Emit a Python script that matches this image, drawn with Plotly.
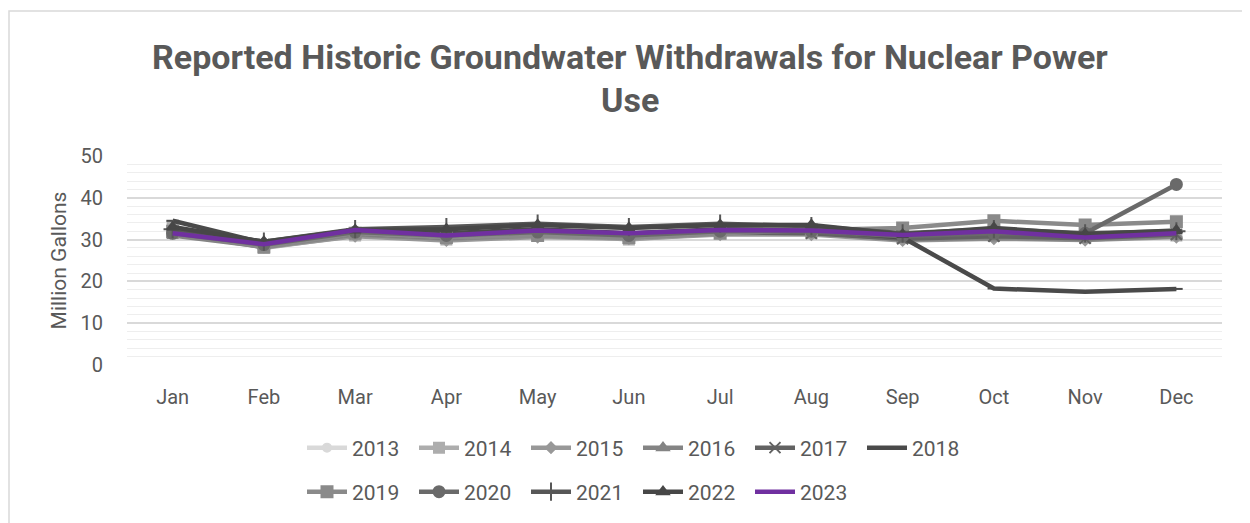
import plotly.graph_objects as go

months = ["Jan", "Feb", "Mar", "Apr", "May", "Jun", "Jul", "Aug", "Sep", "Oct", "Nov", "Dec"]
years = ["2013", "2014", "2015", "2016", "2017", "2018", "2019", "2020", "2021", "2022", "2023"]

y2013 = [32.0, 28.5, 31.0, 30.0, 31.0, 30.5, 31.5, 31.5, 30.0, 30.5, 30.0, 31.0]
y2014 = [33.0, 28.0, 31.0, 30.0, 31.5, 30.0, 31.5, 31.5, 30.5, 31.0, 30.5, 31.0]
y2015 = [31.5, 28.2, 30.8, 29.8, 30.6, 30.2, 31.2, 31.2, 29.8, 30.2, 29.9, 30.6]
y2016 = [31.0, 28.3, 31.2, 30.2, 31.0, 30.5, 31.5, 31.8, 30.0, 30.4, 30.0, 30.8]
y2017 = [31.8, 28.8, 31.5, 30.5, 31.3, 30.8, 31.8, 31.5, 30.2, 30.8, 30.3, 31.2]
y2018 = [34.5, 29.2, 32.0, 31.5, 32.5, 31.5, 32.5, 32.3, 30.5, 18.3, 17.5, 18.2]
y2019 = [32.0, 28.2, 31.5, 30.5, 31.0, 30.5, 31.5, 32.3, 32.8, 34.5, 33.5, 34.3]
y2020 = [31.5, 28.8, 31.8, 31.0, 31.8, 31.0, 32.0, 32.0, 30.8, 31.5, 31.5, 43.2]
y2021 = [32.5, 29.5, 32.5, 33.0, 33.8, 33.0, 33.8, 33.2, 31.5, 32.5, 31.5, 32.0]
y2022 = [33.0, 29.5, 32.3, 32.5, 33.5, 32.8, 33.5, 33.5, 31.2, 32.8, 31.3, 32.2]
y2023 = [31.5, 28.9, 32.3, 31.0, 32.2, 31.5, 32.3, 32.2, 31.1, 32.0, 30.5, 31.5]

values = [y2013, y2014, y2015, y2016, y2017, y2018, y2019, y2020, y2021, y2022, y2023]
colors = ["#d9d9d9", "#adadad", "#989898", "#848484", "#626262", "#4a4a4a",
          "#8a8a8a", "#6a6a6a", "#575757", "#474747", "#7030a0"]
symbols = ["circle", "square", "diamond", "triangle-up", "x-thin", "line-ew",
           "square", "circle", "cross-thin", "triangle-up", None]
sizes = [8, 10, 8, 10, 11, 9, 11, 11, 13, 10, 0]

OFF = 8  # page body margin
W, H = 1250, 523
PL, PT = 127 - OFF, 156 - OFF
pw, ph = 1095, 209
PR = W - PL - pw
PB = H - PT - ph

def px_x(x):
    return (x - OFF - PL) / pw

def px_y(y):
    return (PT + ph - (y - OFF)) / ph

fig = go.Figure()
for i, (yr, vals) in enumerate(zip(years, values)):
    sym = symbols[i]
    mode = "lines+markers" if sym else "lines"
    marker = dict(color=colors[i], size=sizes[i], symbol=sym or "circle",
                  line=dict(color=colors[i], width=2)) if sym else None
    fig.add_trace(go.Scatter(
        x=months, y=vals, name=yr, mode=mode,
        line=dict(color=colors[i], width=4.5),
        marker=marker,
        legend="legend" if i < 6 else "legend2",
    ))

tickfont = dict(family="Roboto, Liberation Sans, Arial", size=20, color="#595959")
legfont = dict(family="Roboto, Liberation Sans, Arial", size=21, color="#595959")

fig.update_layout(
    width=W, height=H,
    margin=dict(l=PL, r=PR, t=PT, b=PB),
    paper_bgcolor="white", plot_bgcolor="white",
    font=dict(family="Roboto, Arial", color="#595959", size=18),
    showlegend=True,
    legend=dict(orientation="h", x=px_x(302), xanchor="left", y=px_y(448), yanchor="middle",
                font=legfont, itemwidth=40, tracegroupgap=0, entrywidth=57,
                bgcolor="rgba(0,0,0,0)"),
    legend2=dict(orientation="h", x=px_x(302), xanchor="left", y=px_y(492), yanchor="middle",
                 font=legfont, itemwidth=40, tracegroupgap=0, entrywidth=57,
                 bgcolor="rgba(0,0,0,0)"),
    xaxis=dict(type="category", range=[-0.5, 11.5], showgrid=False, zeroline=False,
               showline=False, ticks="", ticklabelstandoff=18, tickfont=tickfont),
    yaxis=dict(range=[0, 50], dtick=10, showgrid=True, gridcolor="#d9d9d9", gridwidth=1.5,
               zeroline=False, showline=False, ticks="", ticklabelstandoff=23,
               tickfont=tickfont,
               title=dict(text="Million Gallons", standoff=8,
                          font=dict(family="Roboto, Liberation Sans, Arial", size=21, color="#595959")),
               minor=dict(dtick=2, showgrid=True, gridcolor="#eeeeee", gridwidth=1)),
    shapes=[dict(type="rect", xref="paper", yref="paper",
                 x0=px_x(9), x1=px_x(1270), y0=px_y(560), y1=px_y(11),
                 line=dict(color="#d9d9d9", width=1.5), fillcolor="rgba(0,0,0,0)", layer="below")],
    annotations=[
        dict(text="<b>Reported Historic Groundwater Withdrawals for Nuclear Power</b>",
             xref="paper", yref="paper", x=px_x(630), y=px_y(57), xanchor="center", yanchor="middle",
             showarrow=False, font=dict(family="Roboto, Arial", size=34, color="#595959")),
        dict(text="<b>Use</b>",
             xref="paper", yref="paper", x=px_x(630), y=px_y(100), xanchor="center", yanchor="middle",
             showarrow=False, font=dict(family="Roboto, Arial", size=34, color="#595959")),
    ],
)

fig.write_html("out.html")
